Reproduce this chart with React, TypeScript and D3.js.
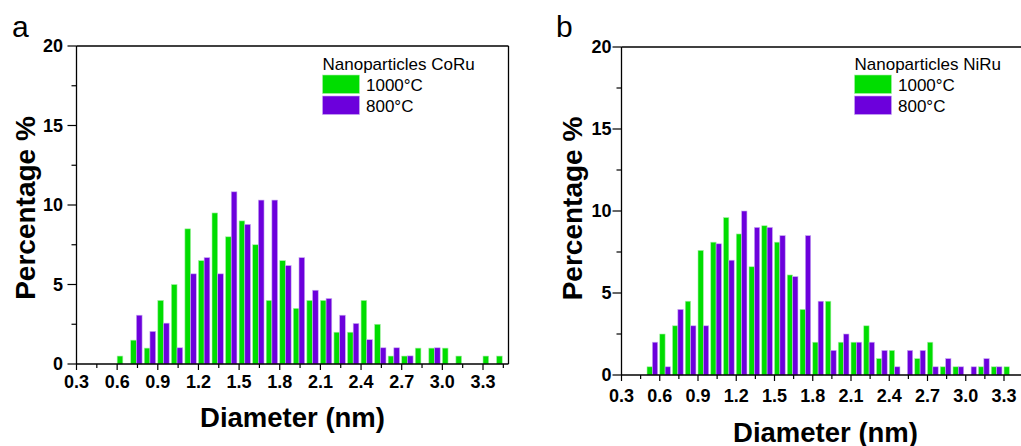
import React from "react";
import * as d3 from "d3";

// ---------- data ----------
const binsA = [0.6, 0.7, 0.8, 0.9, 1.0, 1.1, 1.2, 1.3, 1.4, 1.5, 1.6, 1.7, 1.8, 1.9, 2.0, 2.1, 2.2, 2.3, 2.4, 2.5, 2.6, 2.7, 2.8, 2.9, 3.0, 3.1, 3.2, 3.3, 3.4];
const coRu1000 = [0.5, 1.5, 1.0, 4.0, 5.0, 8.5, 6.5, 9.5, 8.0, 9.0, 7.5, 4.0, 6.5, 3.5, 4.0, 4.0, 2.0, 2.0, 4.0, 2.5, 0.5, 0.5, 1.0, 1.0, 1.0, 0.5, 0, 0.5, 0.5];
const coRu800 = [0, 3.07, 2.05, 2.57, 1.02, 5.67, 6.69, 5.67, 10.83, 8.78, 10.31, 10.31, 6.19, 6.69, 4.64, 4.12, 3.07, 2.55, 1.53, 1.02, 1.02, 0.51, 0, 1.02, 0, 0, 0, 0, 0];

const binsB = [0.5, 0.6, 0.7, 0.8, 0.9, 1.0, 1.1, 1.2, 1.3, 1.4, 1.5, 1.6, 1.7, 1.8, 1.9, 2.0, 2.1, 2.2, 2.3, 2.4, 2.5, 2.6, 2.7, 2.8, 2.9, 3.0, 3.1, 3.2, 3.3];
const niRu1000 = [0.5, 2.5, 3.0, 4.5, 7.6, 8.1, 9.6, 8.6, 6.6, 9.1, 8.1, 6.1, 4.0, 2.0, 4.5, 2.0, 2.0, 3.0, 1.0, 1.5, 0, 1.0, 2.0, 0.5, 0.5, 0, 0.5, 0.5, 0.5];
const niRu800 = [2.0, 0.5, 4.0, 3.0, 3.0, 8.0, 7.0, 10.0, 9.0, 9.0, 8.5, 6.0, 8.5, 4.5, 1.5, 2.5, 2.0, 2.0, 1.5, 0.5, 1.5, 1.5, 0.5, 1.0, 0.5, 0.5, 1.0, 0.5, 0];

const xTickLabels = ["0.3", "0.6", "0.9", "1.2", "1.5", "1.8", "2.1", "2.4", "2.7", "3.0", "3.3"];
const yTickLabels = ["0", "5", "10", "15", "20"];
const seriesNames = ["1000°C", "800°C"];

const GREEN = "#00dd00";
const PURPLE = "#6c00dc";
const FONT = "'Liberation Sans', Arial, Helvetica, sans-serif";

type PanelProps = {
  letter: string;
  title: string;
  bins: number[];
  s1: number[];
  s2: number[];
  left: number;
  right: number;
  pxPerUnit: number;
  top: number;
  bottom: number;
  yLabelX: number;
  xLabelY: number;
  yTitleX: number;
  yTitleY: number;
  xTitleX: number;
  xTitleY: number;
  letterX: number;
  legendX: number;
  showRight: boolean;
};

function Panel(p: PanelProps) {
  const xMax = 0.3 + (p.right - p.left) / p.pxPerUnit;
  const x = d3.scaleLinear().domain([0.3, xMax]).range([p.left, p.right]);
  const y = d3.scaleLinear().domain([0, 20]).range([p.bottom, p.top]);
  const bw = 0.042;
  const xTicks = d3.range(0, 22).map((i) => 0.3 + i * 0.15).filter((v) => v <= xMax + 1e-6);
  const yTicks = d3.range(0, 9).map((i) => i * 2.5);
  const frameRight = p.showRight ? p.right : 1030;
  return (
    <g>
      <text x={p.letterX} y={37} fontSize={30} fontFamily={FONT}>{p.letter}</text>
      {p.bins.map((b, i) => (
        <g key={i}>
          {p.s1[i] > 0 && (
            <rect x={x(b)} y={y(p.s1[i])} width={x(b + bw) - x(b)} height={y(0) - y(p.s1[i])}
              fill={GREEN} stroke="#a8f0a8" strokeWidth={0.6} />
          )}
          {p.s2[i] > 0 && (
            <rect x={x(b + bw)} y={y(p.s2[i])} width={x(b + 2 * bw) - x(b + bw)} height={y(0) - y(p.s2[i])}
              fill={PURPLE} stroke="#c9acf2" strokeWidth={0.6} />
          )}
        </g>
      ))}
      {/* frame */}
      <line x1={p.left} x2={frameRight} y1={p.bottom} y2={p.bottom} stroke="#000" strokeWidth={1.3} />
      <line x1={p.left} x2={p.left} y1={p.top} y2={p.bottom} stroke="#000" strokeWidth={1.3} />
      <line x1={p.left} x2={frameRight} y1={p.top} y2={p.top} stroke="#000" strokeWidth={1.3} />
      {p.showRight && <line x1={p.right} x2={p.right} y1={p.top} y2={p.bottom} stroke="#000" strokeWidth={1.3} />}
      {/* x ticks */}
      {xTicks.map((t, i) => (
        <line key={i} x1={x(t)} x2={x(t)} y1={p.bottom} y2={p.bottom + (i % 2 === 0 ? 6 : 4)} stroke="#000" strokeWidth={1.2} />
      ))}
      {xTickLabels.map((l, i) => (
        <text key={l} x={x(0.3 + 0.3 * i)} y={p.xLabelY} textAnchor="middle" fontSize={18} fontWeight="bold" fontFamily={FONT}>{l}</text>
      ))}
      {/* y ticks */}
      {yTicks.map((t, i) => (
        <line key={i} x1={p.left - (i % 2 === 0 ? 9 : 5)} x2={p.left} y1={y(t)} y2={y(t)} stroke="#000" strokeWidth={1.2} />
      ))}
      {yTickLabels.map((l) => (
        <text key={l} x={p.yLabelX} y={y(+l)} dy="0.36em" textAnchor="end" fontSize={18} fontWeight="bold" fontFamily={FONT}>{l}</text>
      ))}
      {/* titles */}
      <text transform={`translate(${p.yTitleX},${p.yTitleY}) rotate(-90)`} textAnchor="middle" fontSize={28} fontWeight="bold" fontFamily={FONT}>Percentage %</text>
      <text x={p.xTitleX} y={p.xTitleY} textAnchor="middle" fontSize={27.5} fontWeight="bold" fontFamily={FONT}>Diameter (nm)</text>
      {/* legend */}
      <text x={p.legendX} y={70} fontSize={17} fontFamily={FONT}>{p.title}</text>
      <rect x={p.legendX} y={75} width={37} height={18.5} fill={GREEN} stroke="#a8f0a8" strokeWidth={0.6} />
      <rect x={p.legendX} y={96} width={37} height={18.5} fill={PURPLE} stroke="#c9acf2" strokeWidth={0.6} />
      <text x={p.legendX + 43.5} y={90.5} fontSize={17} fontFamily={FONT}>{seriesNames[0]}</text>
      <text x={p.legendX + 43.5} y={111.5} fontSize={17} fontFamily={FONT}>{seriesNames[1]}</text>
    </g>
  );
}

export default function App() {
  return (
    <svg width={1021} height={446} style={{ position: "absolute", left: 0, top: 0, background: "#fff" }}>
      <Panel letter="a" title="Nanoparticles CoRu" bins={binsA} s1={coRu1000} s2={coRu800}
        left={76.5} right={508.5} pxPerUnit={135.5} top={46} bottom={364}
        yLabelX={63} xLabelY={388} yTitleX={35} yTitleY={208} xTitleX={292.5} xTitleY={427}
        letterX={12} legendX={322.5} showRight={true} />
      <Panel letter="b" title="Nanoparticles NiRu" bins={binsB} s1={niRu1000} s2={niRu800}
        left={621.5} right={1029} pxPerUnit={127.5} top={47} bottom={375}
        yLabelX={611.5} xLabelY={401.5} yTitleX={582} yTitleY={208.5} xTitleX={825.5} xTitleY={441.5}
        letterX={556} legendX={854.5} showRight={false} />
    </svg>
  );
}
